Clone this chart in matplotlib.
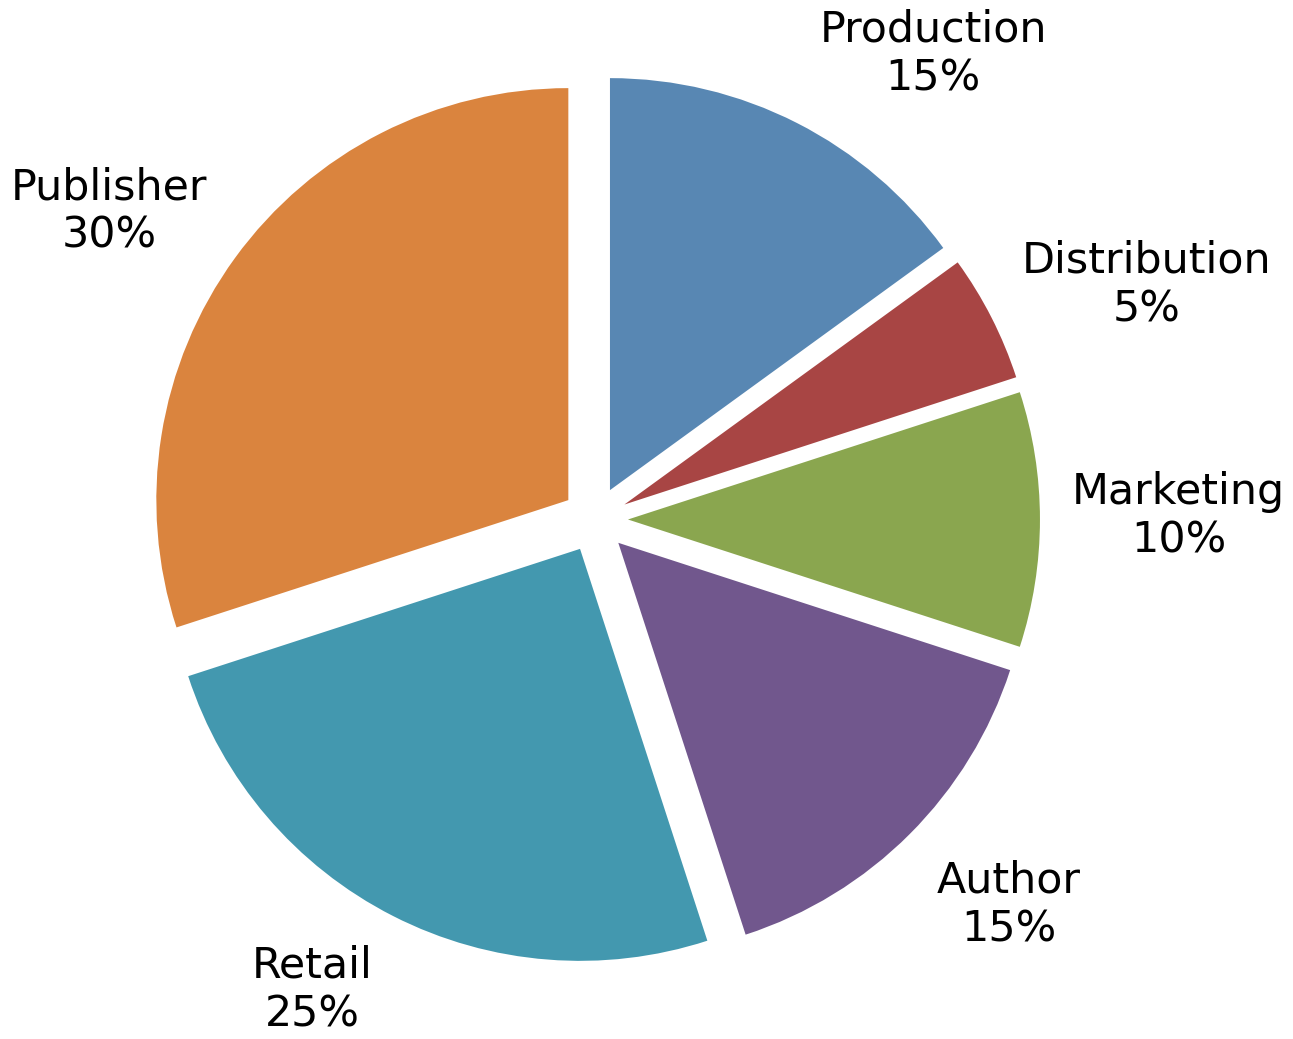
"""
Pie chart of how the price of a book is shared between the parties involved.
"""

import numpy as np
import matplotlib.pyplot as plt

PLOT_FILE = "out.png"

# Share of the book price
CATEGORIES = ["Production", "Distribution", "Marketing", "Author", "Retail", "Publisher"]
SHARES = [15, 5, 10, 15, 25, 30]
COLORS = ["#5887B3", "#A84544", "#8AA64F", "#71578D", "#4398AF", "#DA843E"]

# Label placement: distance from the centre and a small angular nudge (degrees)
LABEL_DIST = [1.396, 1.455, 1.417, 1.372, 1.333, 1.396]
LABEL_NUDGE = [-9.0, -4.0, 0.3, 2.0, -4.0, 3.6]

SCALE = 412  # pixels per unit radius


def plot_book_price_split():
    """Draws the exploded pie with centred two-line labels."""
    fig = plt.figure(figsize=(12.93, 10.39), dpi=100)
    ax = fig.add_axes([0, 0, 1, 1])

    labels = [f"{c}\n{v}%" for c, v in zip(CATEGORIES, SHARES)]
    wedges, texts = ax.pie(
        SHARES,
        labels=labels,
        colors=COLORS,
        startangle=90,
        counterclock=False,
        explode=[0.08] * len(SHARES),
        radius=1.0,
        labeldistance=1.3,
        wedgeprops=dict(linewidth=0),
        textprops=dict(fontsize=30.8, color="black"),
    )

    # centre each label on a point around the pie
    cum = np.cumsum([0] + SHARES[:-1])
    total = sum(SHARES)
    for i, t in enumerate(texts):
        mid = 90 - (cum[i] + SHARES[i] / 2) / total * 360 + LABEL_NUDGE[i]
        rad = np.deg2rad(mid)
        t.set_position((LABEL_DIST[i] * np.cos(rad), LABEL_DIST[i] * np.sin(rad)))
        t.set_ha("center")
        t.set_va("center")
        t.set_multialignment("center")

    ax.set_xlim(-595 / SCALE, (1293 - 595) / SCALE)
    ax.set_ylim(-(1039 - 519.5) / SCALE, 519.5 / SCALE)
    ax.set_aspect("equal")
    ax.axis("off")

    fig.savefig(PLOT_FILE, dpi=100)


if __name__ == "__main__":
    plot_book_price_split()
